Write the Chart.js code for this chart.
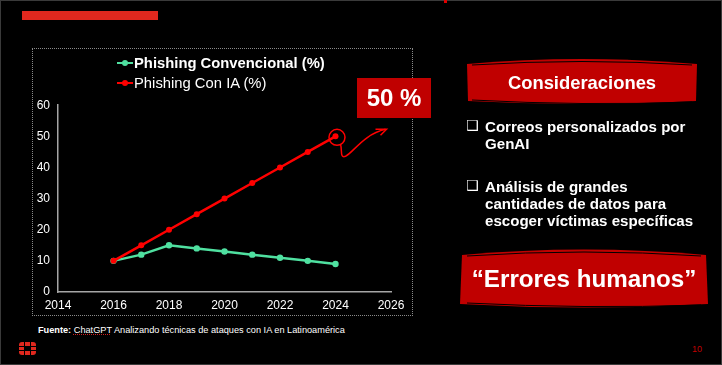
<!DOCTYPE html>
<html>
<head>
<meta charset="utf-8">
<script src="https://cdn.jsdelivr.net/npm/chart.js@4.4.0/dist/chart.umd.min.js"></script>
<style>
html, body { margin: 0; padding: 0; background: #000; }
#slide { position: relative; width: 722px; height: 365px; background: #000; overflow: hidden;
  font-family: "Liberation Sans", Arial, sans-serif; color: #fff; }
.abs { position: absolute; }
#frame { left: 0; top: 0; width: 720px; height: 363px; border: 1px solid #3a3a3a; }
#topbar { left: 22px; top: 11px; width: 136px; height: 9px; background: #e0281e; }
#topmark { left: 444px; top: 0; width: 3px; height: 3px; background: #e00000; }
#box { left: 32px; top: 48px; width: 379px; height: 266px; border: 1px dotted #8a8a8a; }
#chartWrap { left: 20px; top: 90px; width: 400px; height: 225px; }
.leg { left: 117px; height: 18px; line-height: 18px; font-size: 14.8px; white-space: nowrap; }
.leg .mk { position: absolute; left: 0; top: 8px; width: 16px; height: 2px; }
.leg .mk i { position: absolute; left: 5px; top: -2px; width: 6px; height: 6px; border-radius: 50%; }
.leg span.t { position: absolute; left: 17px; top: 0; }
#fifty { left: 357px; top: 78px; width: 74px; height: 40px; background: #c00000; font-weight: bold;
  font-size: 24px; line-height: 40px; text-align: center; }
.banner { overflow: visible; }
.btext { font-weight: bold; text-align: center; white-space: nowrap; }
.bullet { left: 466px; font-weight: bold; font-size: 15.1px; line-height: 17px; white-space: nowrap; }
.bullet .sq { position: absolute; left: 0; top: -1px; font-family: "DejaVu Sans"; font-weight: normal; font-size: 14px; }
.bullet .tx { position: absolute; left: 19px; top: 0; }
#fuente { left: 38px; top: 325px; font-size: 9.2px; white-space: nowrap; }
#fuente u { text-decoration: underline dotted #d02020; }
#pnum { left: 692px; top: 344px; font-size: 9px; color: #c00000; }
</style>
</head>
<body>
<div id="slide">
  <div id="frame" class="abs"></div>
  <div id="topbar" class="abs"></div>
  <div id="topmark" class="abs"></div>
  <div id="box" class="abs"></div>
  <div id="chartWrap" class="abs"><canvas id="myChart"></canvas></div>

  <div class="abs leg" style="top:54px"><div class="mk" style="background:#4fe0a0"><i style="background:#4fe0a0"></i></div><span class="t" style="font-weight:bold">Phishing Convencional (%)</span></div>
  <div class="abs leg" style="top:74px"><div class="mk" style="background:#ff0000"><i style="background:#ff0000"></i></div><span class="t">Phishing Con IA (%)</span></div>

  <div id="fifty" class="abs">50 %</div>

  <svg class="abs banner" style="left:466px;top:57px" width="232" height="48" viewBox="0 0 232 48">
    <path d="M1,7 Q116,-3 231,7 L230,44 Q116,50 2,44 Z" fill="#c00000"/>
    <path d="M6,8 Q116,1 226,8" stroke="#000" stroke-width="1" fill="none"/>
    <path d="M6,43 Q116,49 226,45" stroke="#000" stroke-width="1" fill="none"/>
  </svg>
  <div class="abs btext" style="left:466px;top:71px;width:232px;font-size:18.4px;line-height:24px">Consideraciones</div>

  <div class="abs bullet" style="top:118px"><span class="sq">❑</span><span class="tx">Correos personalizados por<br>GenAI</span></div>
  <div class="abs bullet" style="top:178px"><span class="sq">❑</span><span class="tx">Análisis de grandes<br>cantidades de datos para<br>escoger víctimas específicas</span></div>

  <svg class="abs banner" style="left:459px;top:247px" width="250" height="63" viewBox="0 0 250 63">
    <path d="M3,8 Q125,-3 247,8 L249,57 Q125,64 1,57 Z" fill="#c00000"/>
    <path d="M8,9 Q125,1 242,9" stroke="#000" stroke-width="1" fill="none"/>
    <path d="M8,56 Q125,62 242,58" stroke="#000" stroke-width="1" fill="none"/>
  </svg>
  <div class="abs btext" style="left:459px;top:264px;width:250px;font-size:24.2px;line-height:30px">“Errores humanos”</div>

  <div id="fuente" class="abs"><b>Fuente:</b> <u>ChatGPT</u> Analizando técnicas de ataques con IA en Latinoamérica</div>

  <svg class="abs" style="left:19px;top:342px" width="17" height="13" viewBox="0 0 17 13">
    <rect x="0" y="0" width="17" height="13" rx="3" fill="#e0281e"/>
    <rect x="5" y="4" width="7" height="5" fill="#000"/>
    <rect x="5" y="0" width="1" height="13" fill="#000"/>
    <rect x="11" y="0" width="1" height="13" fill="#000"/>
    <rect x="0" y="4" width="17" height="1" fill="#000"/>
    <rect x="0" y="8" width="17" height="1" fill="#000"/>
  </svg>
  <div id="pnum" class="abs">10</div>
</div>

<script>
const years = [2016, 2017, 2018, 2019, 2020, 2021, 2022, 2023, 2024];
const convencional = [10, 12, 15, 14, 13, 12, 11, 10, 9];
const conIA = [10, 15, 20, 25, 30, 35, 40, 45, 50];
const xMin = 2014, xMax = 2026, xStep = 2;
const yMin = 0, yMax = 60, yStep = 10;

const ctx = document.getElementById('myChart').getContext('2d');

// circle + curly arrow on the last "Con IA" point
const arrowPlugin = {
    id: 'arrowNote',
    afterDatasetsDraw(chart) {
        const meta = chart.getDatasetMeta(1);
        const pt = meta.data[meta.data.length - 1];
        const px = pt.x, py = pt.y;
        const c = chart.ctx;
        c.save();
        c.strokeStyle = '#ff0000';
        c.lineWidth = 1.5;
        c.beginPath();
        c.ellipse(px + 1.5, py + 1, 8, 8, 0, 0, Math.PI * 2);
        c.stroke();
        c.beginPath();
        c.moveTo(px + 5, py + 8);
        c.bezierCurveTo(px + 7, py + 14, px + 4, py + 22, px + 10, py + 20);
        c.bezierCurveTo(px + 18, py + 16, px + 28, py - 2, px + 50, py - 7);
        c.stroke();
        c.beginPath();
        c.moveTo(px + 40, py - 7);
        c.lineTo(px + 51, py - 7);
        c.lineTo(px + 45, py - 1);
        c.stroke();
        c.restore();
    }
};

const graph = {
    type: 'line',
    data: {
        datasets: [{
            label: 'Phishing Convencional (%)',
            data: years.map((y, i) => ({ x: y, y: convencional[i] })),
            borderColor: '#4fe0a0',
            backgroundColor: '#4fe0a0',
            borderWidth: 2.5,
            pointRadius: 3.2,
            pointBorderWidth: 0,
            order: 1
        }, {
            label: 'Phishing Con IA (%)',
            data: years.map((y, i) => ({ x: y, y: conIA[i] })),
            borderColor: '#ff0000',
            backgroundColor: '#ff0000',
            borderWidth: 2.5,
            pointRadius: 3,
            pointBorderWidth: 0,
            order: 0
        }]
    },
    options: {
        responsive: true,
        maintainAspectRatio: false,
        animation: false,
        layout: { padding: { top: 14, right: 29, left: 0, bottom: 0 } },
        plugins: { legend: { display: false }, tooltip: { enabled: false } },
        scales: {
            x: {
                type: 'linear', min: xMin, max: xMax,
                grid: { display: false, drawTicks: false },
                border: { color: '#a6a6a6', width: 1.5 },
                ticks: { stepSize: xStep, color: '#fff', padding: 6,
                    font: { family: 'Liberation Sans', size: 12 },
                    callback: v => String(v) },
                afterFit: s => { s.height = 23; }
            },
            y: {
                min: yMin, max: yMax,
                grid: { display: false, drawTicks: false },
                border: { color: '#a6a6a6', width: 1.5 },
                ticks: { stepSize: yStep, color: '#fff', padding: 8,
                    font: { family: 'Liberation Sans', size: 12 } },
                afterFit: s => { s.width = 38; }
            }
        }
    },
    plugins: [arrowPlugin]
};

const myChart = new Chart(ctx, graph);
</script>
</body>
</html>
